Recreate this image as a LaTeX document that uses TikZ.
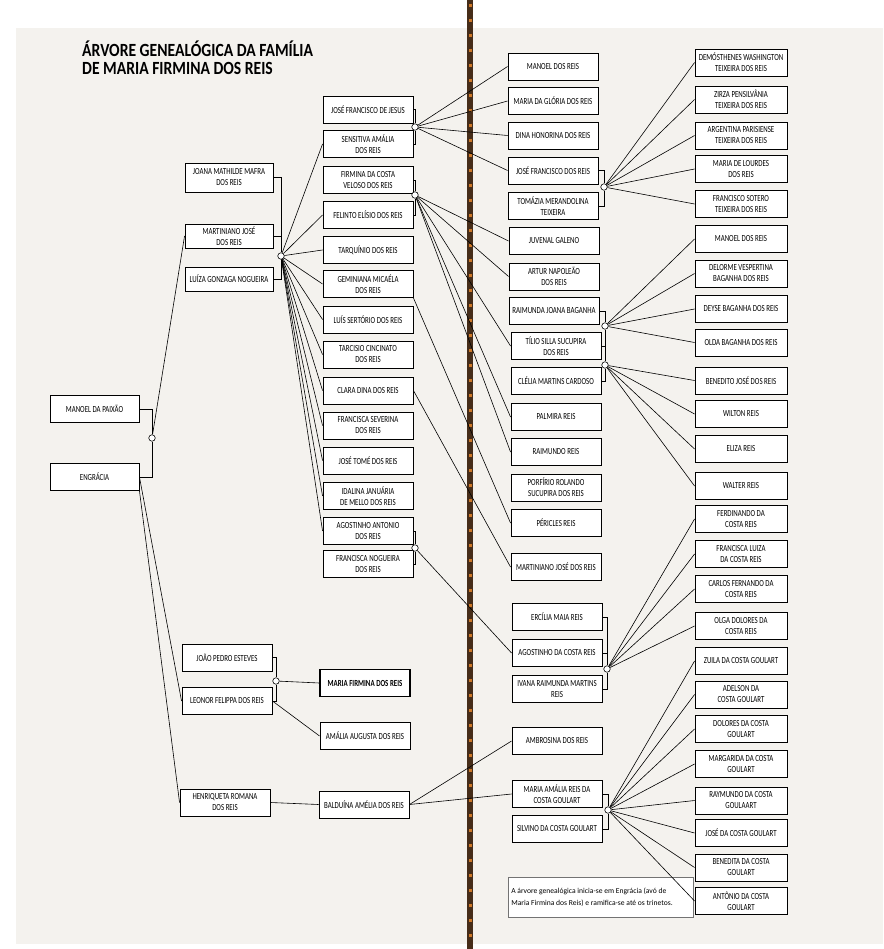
\documentclass[tikz,border=0pt]{standalone}
\usepackage{fontspec}
\setmainfont{Carlito}
\newfontfamily\boxfont[FakeStretch=0.74]{Carlito}
\newfontfamily\titlefont[FakeStretch=0.84]{Carlito}
\definecolor{pagebg}{RGB}{244,242,238}
\definecolor{spinec}{RGB}{70,45,25}
\definecolor{stitch}{RGB}{205,120,40}
\begin{document}
\begin{tikzpicture}[x=1pt,y=-1pt,
  pbox/.style={draw=black, line width=0.9pt, fill=white, minimum width=90pt, minimum height=27pt,
    inner sep=1pt, align=center, font=\boxfont\fontsize{9.3}{11}\selectfont},
  fbox/.style={pbox, minimum width=92pt},
  knot/.style={circle, draw=black, fill=white, line width=0.6pt, inner sep=0pt, minimum size=6.5pt},
  link/.style={line width=0.6pt, draw=black}]
\useasboundingbox (0,0) rectangle (883,949);
\fill[white] (0,0) rectangle (883,949);
\fill[pagebg] (16,28) rectangle (883,944);
\draw[line width=6pt, spinec] (470,0) -- (470,949);
\draw[line width=3pt, stitch, dash pattern=on 3pt off 12pt] (470,4) -- (470,949);

% title
\node[anchor=base west, align=left, inner sep=0pt, font=\titlefont\bfseries\fontsize{18.6}{18}\selectfont]
  (title) at (82,75) {ÁRVORE GENEALÓGICA DA FAMÍLIA\\DE MARIA FIRMINA DOS REIS};

% generation 1
\node[pbox, minimum width=89pt] (manoelp) at (94.5,409) {MANOEL DA PAIXÃO};
\node[pbox, minimum width=89pt] (engracia) at (94.5,477) {ENGRÁCIA};
\node[knot] (c0) at (152,438) {};

% generation 2
\node[pbox, minimum width=88pt, minimum height=29pt] (joana) at (229,177.5) {JOANA MATHILDE MAFRA\\DOS REIS};
\node[pbox, minimum width=88pt, minimum height=24pt] (martiniano) at (229,236) {MARTINIANO JOSÉ\\DOS REIS};
\node[pbox, minimum width=88pt, minimum height=24pt] (luiza) at (229,279) {LUÍZA GONZAGA NOGUEIRA};
\node[knot] (c1) at (281,256) {};
\node[pbox] (joao) at (227,657.5) {JOÃO PEDRO ESTEVES};
\node[pbox] (leonor) at (227,701) {LEONOR FELIPPA DOS REIS};
\node[knot] (c2) at (276,681) {};
\node[pbox, line width=1.2pt, font=\boxfont\bfseries\fontsize{9.3}{11}\selectfont] (mfirmina) at (365,683) {MARIA FIRMINA DOS REIS};
\node[pbox] (amalia) at (365,736) {AMÁLIA AUGUSTA DOS REIS};
\node[pbox] (henriqueta) at (225,802.5) {HENRIQUETA ROMANA\\DOS REIS};
\node[pbox] (balduina) at (364,804.5) {BALDUÍNA AMÉLIA DOS REIS};

% generation 3 (column 2)
\node[pbox] (jfj) at (368,109.5) {JOSÉ FRANCISCO DE JESUS};
\node[pbox] (sensitiva) at (368,144) {SENSITIVA AMÁLIA\\DOS REIS};
\node[pbox] (firmina) at (368,180) {FIRMINA DA COSTA\\VELOSO DOS REIS};
\node[pbox] (felinto) at (368,215) {FELINTO ELÍSIO DOS REIS};
\node[pbox] (tarquinio) at (368,250) {TARQUÍNIO DOS REIS};
\node[pbox] (geminiana) at (368,284) {GEMINIANA MICAÉLA\\DOS REIS};
\node[pbox] (luis) at (368,319.5) {LUÍS SERTÓRIO DOS REIS};
\node[pbox] (tarcisio) at (368,354.5) {TARCISIO CINCINATO\\DOS REIS};
\node[pbox] (clara) at (368,390.5) {CLARA DINA DOS REIS};
\node[pbox] (fseverina) at (368,425.5) {FRANCISCA SEVERINA\\DOS REIS};
\node[pbox] (jtome) at (368,460.5) {JOSÉ TOMÉ DOS REIS};
\node[pbox] (idalina) at (368,496) {IDALINA JANUÁRIA\\DE MELLO DOS REIS};
\node[pbox] (agostinhoa) at (368,531) {AGOSTINHO ANTONIO\\DOS REIS};
\node[pbox] (fnogueira) at (368,564) {FRANCISCA NOGUEIRA\\DOS REIS};
\node[knot] (c3) at (415,127) {};
\node[knot] (c4) at (415,195) {};
\node[knot] (c5) at (415,548) {};

% generation 4 (column 3)
\node[pbox] (manoel2) at (553,66.5) {MANOEL DOS REIS};
\node[pbox] (mgloria) at (553,101) {MARIA DA GLÓRIA DOS REIS};
\node[pbox] (dina) at (553,135.5) {DINA HONORINA DOS REIS};
\node[pbox] (jfr) at (553,170.5) {JOSÉ FRANCISCO DOS REIS};
\node[pbox] (tomazia) at (553,206) {TOMÁZIA MERANDOLINA\\TEIXEIRA};
\node[pbox] (juvenal) at (554,241) {JUVENAL GALENO};
\node[pbox] (artur) at (554,276.5) {ARTUR NAPOLEÃO\\DOS REIS};
\node[pbox] (raimunda) at (554,311) {RAIMUNDA JOANA BAGANHA};
\node[pbox] (tilio) at (556,346) {TÍLIO SILLA SUCUPIRA\\DOS REIS};
\node[pbox] (clelia) at (556,381) {CLÉLIA MARTINS CARDOSO};
\node[pbox] (palmira) at (556,417) {PALMIRA REIS};
\node[pbox] (raimundo) at (556,452) {RAIMUNDO REIS};
\node[pbox] (porfirio) at (556,487.5) {PORFÍRIO ROLANDO\\SUCUPIRA DOS REIS};
\node[pbox] (pericles) at (556,523) {PÉRICLES REIS};
\node[pbox] (martiniano2) at (556,567) {MARTINIANO JOSÉ DOS REIS};
\node[pbox] (ercilia) at (557,617) {ERCÍLIA MAIA REIS};
\node[pbox] (agostinhoc) at (557,653) {AGOSTINHO DA COSTA REIS};
\node[pbox] (ivana) at (557,689) {IVANA RAIMUNDA MARTINS\\REIS};
\node[pbox] (ambrosina) at (557,741) {AMBROSINA DOS REIS};
\node[pbox] (mamalia) at (557,794) {MARIA AMÁLIA REIS DA\\COSTA GOULART};
\node[pbox] (silvino) at (557,829) {SILVINO DA COSTA GOULART};
\node[knot] (c6) at (604,187) {};
\node[knot] (c7) at (605,326) {};
\node[knot] (c8) at (605,365) {};
\node[knot] (c9) at (607,669) {};
\node[knot] (c10) at (608,810) {};

% generation 5 (column 4)
\node[fbox] (demosthenes) at (741,62.5) {DEMÓSTHENES WASHINGTON\\TEIXEIRA DOS REIS};
\node[fbox] (zirza) at (741,99.5) {ZIRZA PENSILVÂNIA\\TEIXEIRA DOS REIS};
\node[fbox] (argentina) at (741,135.5) {ARGENTINA PARISIENSE\\TEIXEIRA DOS REIS};
\node[fbox] (mlourdes) at (741,169) {MARIA DE LOURDES\\DOS REIS};
\node[fbox] (fsotero) at (741,204) {FRANCISCO SOTERO\\TEIXEIRA DOS REIS};
\node[fbox] (manoel3) at (741,239) {MANOEL DOS REIS};
\node[fbox] (delorme) at (741,273.5) {DELORME VESPERTINA\\BAGANHA DOS REIS};
\node[fbox] (deyse) at (741,309) {DEYSE BAGANHA DOS REIS};
\node[fbox] (olda) at (741,342.5) {OLDA BAGANHA DOS REIS};
\node[fbox] (benedito) at (741,380.5) {BENEDITO JOSÉ DOS REIS};
\node[fbox] (wilton) at (741,414) {WILTON REIS};
\node[fbox] (eliza) at (741,449) {ELIZA REIS};
\node[fbox] (walter) at (741,486) {WALTER REIS};
\node[fbox] (ferdinando) at (741,519) {FERDINANDO DA\\COSTA REIS};
\node[fbox] (fluiza) at (741,554) {FRANCISCA LUIZA\\DA COSTA REIS};
\node[fbox] (carlos) at (741,589) {CARLOS FERNANDO DA\\COSTA REIS};
\node[fbox] (olga) at (741,626) {OLGA DOLORES DA\\COSTA REIS};
\node[fbox] (zuila) at (741,661) {ZUILA DA COSTA GOULART};
\node[fbox] (adelson) at (741,694.5) {ADELSON DA\\COSTA GOULART};
\node[fbox] (dolores) at (741,729) {DOLORES DA COSTA\\GOULART};
\node[fbox] (margarida) at (741,764) {MARGARIDA DA COSTA\\GOULART};
\node[fbox] (raymundo) at (741,800.5) {RAYMUNDO DA COSTA\\GOULAART};
\node[fbox] (jose) at (741,833) {JOSÉ DA COSTA GOULART};
\node[fbox] (benedita) at (741,867.5) {BENEDITA DA COSTA\\GOULART};
\node[fbox] (antonio) at (741,901) {ANTÔNIO DA COSTA\\GOULART};

% caption
\node[draw=black!55, line width=0.5pt, fill=white, anchor=north west, minimum height=40pt,
  inner sep=3pt, text width=179pt, align=flush left, font=\fontsize{7.6}{11.5}\selectfont] (caption) at (508,877)
  {A árvore genealógica inicia-se em Engrácia (avó de\\Maria Firmina dos Reis) e ramifica-se até os trinetos.};

% couples (brackets)
\draw[link] (manoelp.east) -| (c0);
\draw[link] (engracia.east) -| (c0);
\draw[link] (joana.east) -| (c1);
\draw[link] (martiniano.east) -| (c1);
\draw[link] (luiza.east) -| (c1);
\draw[link] (joao.east) -| (c2);
\draw[link] (leonor.east) -| (c2);
\draw[link] (jfj.east) -| (c3);
\draw[link] (sensitiva.east) -| (c3);
\draw[link] (firmina.east) -| (c4);
\draw[link] (felinto.east) -| (c4);
\draw[link] (agostinhoa.east) -| (c5);
\draw[link] (fnogueira.east) -| (c5);
\draw[link] (jfr.east) -| (c6);
\draw[link] (tomazia.east) -| (c6);
\draw[link] (raimunda.east) -| (c7);
\draw[link] (tilio.east) -| (c7);
\draw[link] (tilio.east) -| (c8);
\draw[link] (clelia.east) -| (c8);
\draw[link] (ercilia.east) -| (c9);
\draw[link] (agostinhoc.east) -| (c9);
\draw[link] (ivana.east) -| (c9);
\draw[link] (mamalia.east) -| (c10);
\draw[link] (silvino.east) -| (c10);

% descent lines
\draw[link] (c0) -- (martiniano.west);
\draw[link] (engracia.east) -- (leonor.west);
\draw[link] (engracia.south east) -- (henriqueta.west);
\draw[link] (c2) -- (mfirmina.west);
\draw[link] (leonor.east) -- (amalia.west);
\draw[link] (henriqueta.east) -- (balduina.west);
\draw[link] (balduina.east) -- (ambrosina.west);
\draw[link] (balduina.east) -- (mamalia.west);
\foreach \k in {sensitiva,felinto,tarquinio,geminiana,luis,tarcisio,clara,fseverina,jtome,idalina,agostinhoa}
  \draw[link] (c1) -- (\k.west);
\foreach \k in {manoel2,mgloria,dina,jfr}
  \draw[link] (c3) -- (\k.west);
\foreach \k in {juvenal,artur,tilio,palmira,raimundo}
  \draw[link] (c4) -- (\k.west);
\draw[link] (geminiana.south east) -- (pericles.west);
\draw[link] (clara.east) -- (martiniano2.west);
\draw[link] (c5) -- (agostinhoc.west);
\foreach \k in {demosthenes,zirza,argentina,mlourdes,fsotero}
  \draw[link] (c6) -- (\k.west);
\foreach \k in {manoel3,delorme,deyse,olda}
  \draw[link] (c7) -- (\k.west);
\foreach \k in {benedito,wilton,eliza,walter}
  \draw[link] (c8) -- (\k.west);
\foreach \k in {ferdinando,fluiza,carlos,olga}
  \draw[link] (c9) -- (\k.west);
\foreach \k in {zuila,adelson,dolores,margarida,raymundo,jose,benedita,antonio}
  \draw[link] (c10) -- (\k.west);
\end{tikzpicture}
\end{document}
